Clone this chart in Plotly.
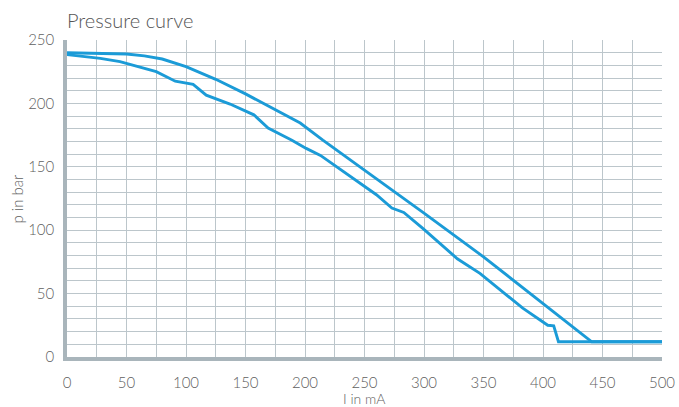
import plotly.graph_objects as go

# Upper curve (I in mA, p in bar)
upper_I = [0, 25, 50, 65, 80, 100, 125, 150, 175, 196, 215, 250, 300, 350, 400, 431, 441, 500]
upper_p = [240, 239.5, 239, 237.5, 235, 229, 219, 207.5, 195, 184.5, 171, 147.5, 113.5, 79, 42.5, 20, 12, 12]

# Lower curve
lower_I = [0, 28, 44.5, 61, 75, 91, 106, 117, 137, 157, 169, 189, 201, 213, 260, 273, 283, 299, 328, 347, 383, 404, 409, 413, 500]
lower_p = [238.5, 235.5, 233, 228.5, 225, 217.5, 215, 206.5, 199.5, 191, 180.5, 171, 164.5, 159, 128, 117.5, 114, 101.5, 77.5, 66, 38.5, 25, 24.5, 12, 12]

x_ticks = [0, 50, 100, 150, 200, 250, 300, 350, 400, 450, 500]
y_ticks = [0, 50, 100, 150, 200, 250]

line_color = "#1b9bd7"
grid_color = "#bcc6cb"
axis_color = "#a9b5bb"
text_color = "#5f5f5f"
font = "Lato, 'Open Sans', sans-serif"

fig = go.Figure()
fig.add_trace(go.Scatter(x=upper_I, y=upper_p, mode="lines",
                         line=dict(color=line_color, width=2.9), showlegend=False))
fig.add_trace(go.Scatter(x=lower_I, y=lower_p, mode="lines",
                         line=dict(color=line_color, width=2.9), showlegend=False))

fig.update_layout(
    width=679, height=407,
    margin=dict(l=67, r=17, t=40, b=50),
    paper_bgcolor="white", plot_bgcolor="white",
    font=dict(family=font, color=text_color, size=15, weight=300),
    title=dict(text="Pressure curve", x=67/679, xref="container", xanchor="left",
               y=1 - 21/407, yref="container", yanchor="middle",
               font=dict(size=20, color="#555555", weight=300)),
    annotations=[
        dict(text="I in mA", xref="paper", yref="paper", x=0.5, y=0,
             yshift=-41, xanchor="center", yanchor="middle", showarrow=False,
             font=dict(size=14, color=text_color, weight=300)),
        dict(text="p in bar", xref="paper", yref="paper", x=0, y=0.5,
             xshift=-51, xanchor="center", yanchor="middle", textangle=-90,
             showarrow=False, font=dict(size=15, color=text_color, weight=300)),
    ],
)
fig.update_xaxes(range=[0, 500], tickvals=x_ticks, ticktext=[str(v) for v in x_ticks],
                 showgrid=True, gridcolor=grid_color, gridwidth=1.4,
                 minor=dict(dtick=25, showgrid=True, gridcolor=grid_color, gridwidth=1.2),
                 showline=True, linecolor=axis_color, linewidth=3.5, mirror=False,
                 zeroline=False, ticks="", ticklabelstandoff=9, automargin=False)
fig.update_yaxes(range=[0, 250], tickvals=y_ticks, ticktext=[str(v) for v in y_ticks],
                 showgrid=True, gridcolor=grid_color, gridwidth=1.4,
                 minor=dict(dtick=10, showgrid=True, gridcolor=grid_color, gridwidth=1.2),
                 showline=True, linecolor=axis_color, linewidth=3.5,
                 zeroline=False, ticks="", ticklabelstandoff=6, automargin=False)

fig.write_html("out.html", config={"displayModeBar": False},
               post_script="document.body.style.margin='0';")
